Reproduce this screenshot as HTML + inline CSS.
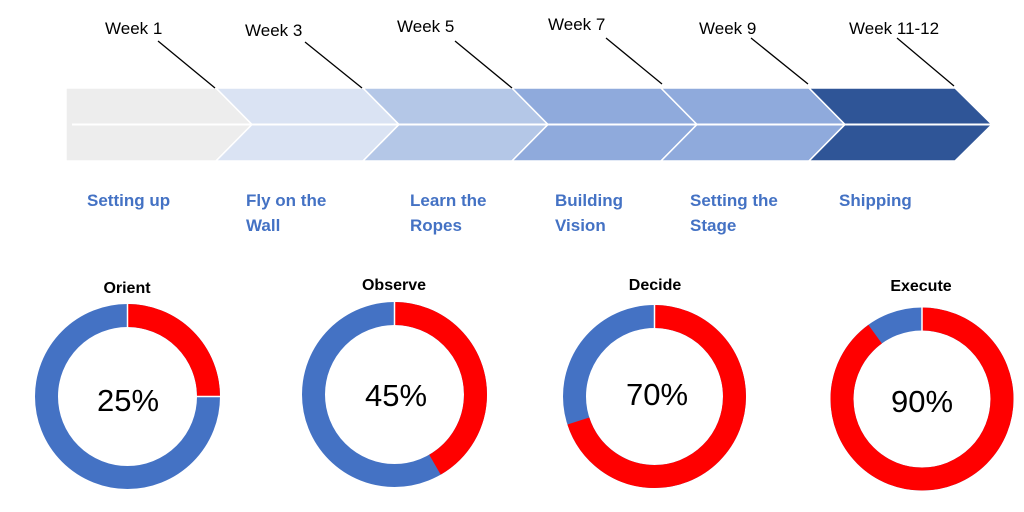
<!DOCTYPE html>
<html><head><style>
html,body{margin:0;padding:0;background:#fff;}
svg{display:block;font-family:"Liberation Sans","DejaVu Sans",sans-serif;}
.wk{font-size:17px;fill:#000;}
.lb{font-size:17px;font-weight:bold;fill:#4472c4;}
.tt{font-size:16px;font-weight:bold;fill:#000;text-anchor:middle;}
.pc{font-size:31px;fill:#000;text-anchor:middle;}
</style></head><body>
<svg width="1024" height="512" viewBox="0 0 1024 512">
<g stroke="#fff" stroke-width="1.5">
<polygon points="66,88 216,88 252,124.5 216,161 66,161" fill="#ededed"/>
<polygon points="216,88 363,88 399,124.5 363,161 216,161 252,124.5" fill="#dae3f3"/>
<polygon points="363,88 512,88 548,124.5 512,161 363,161 399,124.5" fill="#b4c7e7"/>
<polygon points="512,88 661,88 697,124.5 661,161 512,161 548,124.5" fill="#8faadc"/>
<polygon points="661,88 809,88 845,124.5 809,161 661,161 697,124.5" fill="#8faadc"/>
<polygon points="809,88 955,88 992,124.5 955,161 809,161 845,124.5" fill="#2f5597"/>
</g>
<line x1="72" y1="124.5" x2="992" y2="124.5" stroke="#fff" stroke-width="2"/>
<g stroke="#000" stroke-width="1.3">
<line x1="158" y1="41" x2="215" y2="88"/>
<line x1="305" y1="42" x2="362" y2="88"/>
<line x1="455" y1="41" x2="512" y2="88"/>
<line x1="606" y1="38" x2="662" y2="84"/>
<line x1="751" y1="38" x2="808" y2="84"/>
<line x1="897" y1="38" x2="954" y2="86"/>
</g>
<text class="wk" x="105" y="34">Week 1</text>
<text class="wk" x="245" y="36">Week 3</text>
<text class="wk" x="397" y="32">Week 5</text>
<text class="wk" x="548" y="30">Week 7</text>
<text class="wk" x="699" y="34">Week 9</text>
<text class="wk" x="849" y="34">Week 11-12</text>
<text class="lb" x="87" y="206">Setting up</text>
<text class="lb" x="246" y="206">Fly on the</text><text class="lb" x="246" y="231">Wall</text>
<text class="lb" x="410" y="206">Learn the</text><text class="lb" x="410" y="231">Ropes</text>
<text class="lb" x="555" y="206">Building</text><text class="lb" x="555" y="231">Vision</text>
<text class="lb" x="690" y="206">Setting the</text><text class="lb" x="690" y="231">Stage</text>
<text class="lb" x="839" y="206">Shipping</text>

<g fill="none" stroke-width="23">
<g transform="translate(127.5,396.5) rotate(-90)">
<circle r="81" stroke="#4472c4"/>
<circle r="81" stroke="#ff0000" stroke-dasharray="127.2 600"/>
</g>
<g transform="translate(394.5,394.5) rotate(-90)">
<circle r="81" stroke="#4472c4"/>
<circle r="81" stroke="#ff0000" stroke-dasharray="212 600"/>
</g>
<g transform="translate(654.5,396.5) rotate(-90)">
<circle r="80" stroke="#4472c4"/>
<circle r="80" stroke="#ff0000" stroke-dasharray="351.9 600"/>
</g>
<g transform="translate(922,399) rotate(-90)">
<circle r="80" stroke="#4472c4"/>
<circle r="80" stroke="#ff0000" stroke-dasharray="452.4 600"/>
</g>
</g>
<g stroke="#fff" stroke-width="1.5">
<line x1="127.5" y1="303" x2="127.5" y2="328"/>
<line x1="196" y1="396.5" x2="221" y2="396.5"/>
<line x1="394.5" y1="301" x2="394.5" y2="326"/>
<line x1="654.5" y1="304" x2="654.5" y2="329"/>
<line x1="922" y1="307" x2="922" y2="332"/>
</g>
<text class="tt" x="127" y="293">Orient</text>
<text class="tt" x="394" y="290">Observe</text>
<text class="tt" x="655" y="290">Decide</text>
<text class="tt" x="921" y="291">Execute</text>
<text class="pc" x="128" y="411">25%</text>
<text class="pc" x="396" y="406">45%</text>
<text class="pc" x="657" y="405">70%</text>
<text class="pc" x="922" y="412">90%</text>
</svg>
</body></html>
